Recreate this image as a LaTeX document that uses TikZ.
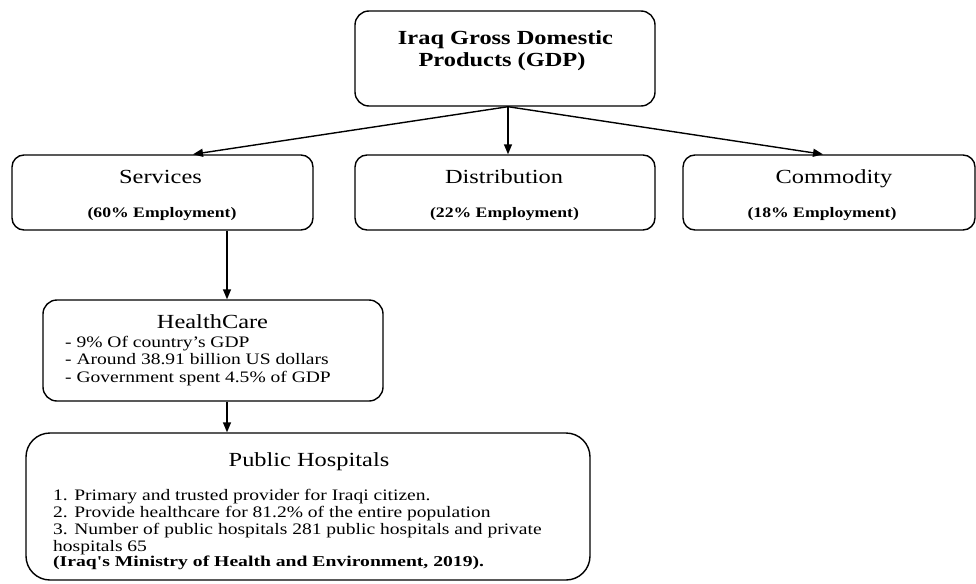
\documentclass[tikz,border=0pt]{standalone}
\usepackage{fontspec}
\newfontfamily\tnr[FakeStretch=1.22]{Liberation Serif}
\newfontfamily\tnrw[FakeStretch=1.31]{Liberation Serif}
\usetikzlibrary{arrows.meta}
\begin{document}
\begin{tikzpicture}[x=1pt,y=-1pt,
  box/.style={draw, line width=1.4pt, rounded corners=#1, inner sep=0pt},
  box/.default=14pt,
  arr/.style={line width=1.4pt, -{Triangle[length=10pt,width=8pt]}},
  head/.style={font=\tnr\fontsize{20}{24}\selectfont, anchor=base, inner sep=0pt},
  headb/.style={font=\tnr\bfseries\fontsize{20}{24}\selectfont, anchor=base, inner sep=0pt},
  emp/.style={font=\tnr\bfseries\fontsize{14.5}{17}\selectfont, anchor=base, inner sep=0pt},
  body/.style={font=\tnr\fontsize{16}{19}\selectfont, anchor=base west, inner sep=0pt},
  bodyb/.style={font=\tnrw\bfseries\fontsize{15}{18}\selectfont, anchor=base west, inner sep=0pt},
]
\useasboundingbox (0,0) rectangle (976,583);

% GDP
\node[box, minimum width=300pt, minimum height=95pt] (gdp) at (505,58.5) {};
\node[headb] (gdpA) at (505.5,45) {Iraq Gross Domestic};
\node[headb] (gdpB) at (502,67) {Products (GDP)};

% Sectors
\node[box=12pt, minimum width=301pt, minimum height=75pt] (serv) at (162.5,192.5) {};
\node[head] (servA) at (160.5,183) {Services};
\node[emp] (servB) at (162,217) {(60\% Employment)};

\node[box=12pt, minimum width=300pt, minimum height=75pt] (dist) at (505,192.5) {};
\node[head] (distA) at (504,183) {Distribution};
\node[emp] (distB) at (504.5,217) {(22\% Employment)};

\node[box=12pt, minimum width=292pt, minimum height=75pt] (comm) at (829,192.5) {};
\node[head] (commA) at (834,183) {Commodity};
\node[emp] (commB) at (822,217) {(18\% Employment)};

% HealthCare
\node[box, minimum width=340pt, minimum height=101pt] (hc) at (213,350.5) {};
\node[head] (hcA) at (212.5,328) {HealthCare};
\node[body] (hc1) at (65,347) {- 9\% Of country’s GDP};
\node[body] (hc2) at (65,364.5) {- Around 38.91 billion US dollars};
\node[body] (hc3) at (65,382) {- Government spent 4.5\% of GDP};

% Public Hospitals
\node[box=24pt, minimum width=564pt, minimum height=147pt] (pub) at (308,506.5) {};
\node[head] (pubA) at (309,466) {Public Hospitals};
\node[body] (pub1) at (53,500) {1. Primary and trusted provider for Iraqi citizen.};
\node[body] (pub2) at (53,517) {2. Provide healthcare for 81.2\% of the entire population};
\node[body] (pub3) at (53,534) {3. Number of public hospitals 281 public hospitals and private};
\node[body] (pub4) at (53,551) {hospitals 65};
\node[bodyb] (pub5) at (53,566) {(Iraq's Ministry of Health and Environment, 2019).};

% Connectors
\draw[arr] ([xshift=3pt]gdp.south) -- ([xshift=30.5pt]serv.north);
\draw[arr] ([xshift=3pt]gdp.south) -- ([xshift=3pt]dist.north);
\draw[arr] ([xshift=3pt]gdp.south) -- ([xshift=-6pt]comm.north);
\draw[arr] ([xshift=64.5pt]serv.south) -- ([xshift=14pt]hc.north);
\draw[arr] ([xshift=14pt]hc.south) -- ([xshift=-81pt]pub.north);
\end{tikzpicture}
\end{document}
